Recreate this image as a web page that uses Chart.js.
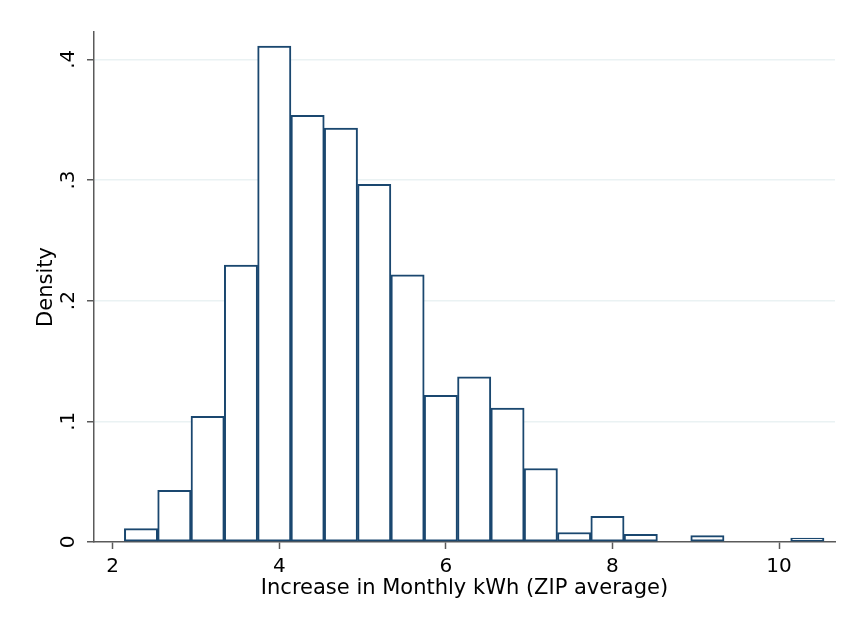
<!DOCTYPE html>
<html>
<head>
<meta charset="utf-8">
<script src="https://cdn.jsdelivr.net/npm/chart.js@4.4.0/dist/chart.umd.min.js"></script>
<style>
  html, body { margin: 0; padding: 0; background: #fff; }
  #wrap { width: 847px; height: 622px; }
</style>
</head>
<body>
<div id="wrap"><canvas id="hist" width="847" height="622"></canvas></div>
<script>
/* ── Data ──────────────────────────────────────────── */
const binCenters = [2.34, 2.74, 3.14, 3.54, 3.94, 4.34, 4.74, 5.14, 5.54,
                    5.94, 6.34, 6.74, 7.14, 7.54, 7.94, 8.34, 9.14, 10.34];
const densities  = [0.0111, 0.0429, 0.1042, 0.2294, 0.4110, 0.3536, 0.3430, 0.2964, 0.2214,
                    0.1216, 0.1368, 0.1109, 0.0609, 0.0079, 0.0213, 0.0064, 0.0053, 0.0033];
const xTicks = [2, 4, 6, 8, 10];
const yTicks = [0, 0.1, 0.2, 0.3, 0.4];
const yTickLabels = ['0', '.1', '.2', '.3', '.4'];

/* ── Styles ────────────────────────────────────────── */
const NAVY = '#1a476f';
const AXIS = '#5a5a5a';
const GRID = '#eaf2f3';
const FONT = 'DejaVu Sans';

new Chart(document.getElementById('hist'), {
  type: 'bar',
  data: {
    datasets: [{
      data: binCenters.map((x, i) => ({ x, y: densities[i] })),
      backgroundColor: '#ffffff',
      borderColor: NAVY,
      borderWidth: 2,
      borderSkipped: false,
      barPercentage: 1,
      categoryPercentage: 1,
    }],
  },
  options: {
    responsive: false,
    animation: false,
    layout: { padding: { left: 0, right: 12, top: 32, bottom: 0 } },
    plugins: { legend: { display: false }, tooltip: { enabled: false } },
    scales: {
      x: {
        type: 'linear',
        min: 1.7755,
        max: 10.672,
        offset: false,
        afterBuildTicks: s => { s.ticks = xTicks.map(v => ({ value: v })); },
        afterFit: s => { s.height = 80; },
        border: { color: AXIS, width: 1.5 },
        grid: { offset: false, drawOnChartArea: false, tickLength: 7, tickColor: AXIS, tickWidth: 1.5 },
        ticks: { color: '#000', font: { family: FONT, size: 20 }, padding: 6, maxRotation: 0, autoSkip: false },
        title: {
          display: true,
          text: 'Increase in Monthly kWh (ZIP average)',
          color: '#000',
          font: { family: FONT, size: 21 },
          padding: { top: 0, bottom: 21 },
        },
      },
      y: {
        min: 0,
        max: 0.4226,
        afterBuildTicks: s => { s.ticks = yTicks.map(v => ({ value: v })); },
        afterFit: s => { s.width = 94; },
        border: { color: AXIS, width: 1.5 },
        grid: {
          color: ctx => ctx.tick && ctx.tick.value === 0 ? 'rgba(0,0,0,0)' : GRID,
          lineWidth: 1.5,
          tickLength: 7,
          tickColor: AXIS,
          tickWidth: 1.5,
        },
        ticks: {
          color: '#000',
          font: { family: FONT, size: 20 },
          minRotation: 90,
          maxRotation: 90,
          crossAlign: 'center',
          padding: 9,
          autoSkip: false,
          callback: (v, i) => yTickLabels[i],
        },
        title: {
          display: true,
          text: 'Density',
          color: '#000',
          font: { family: FONT, size: 21 },
          padding: { top: 34, bottom: 0 },
        },
      },
    },
  },
});
</script>
</body>
</html>
